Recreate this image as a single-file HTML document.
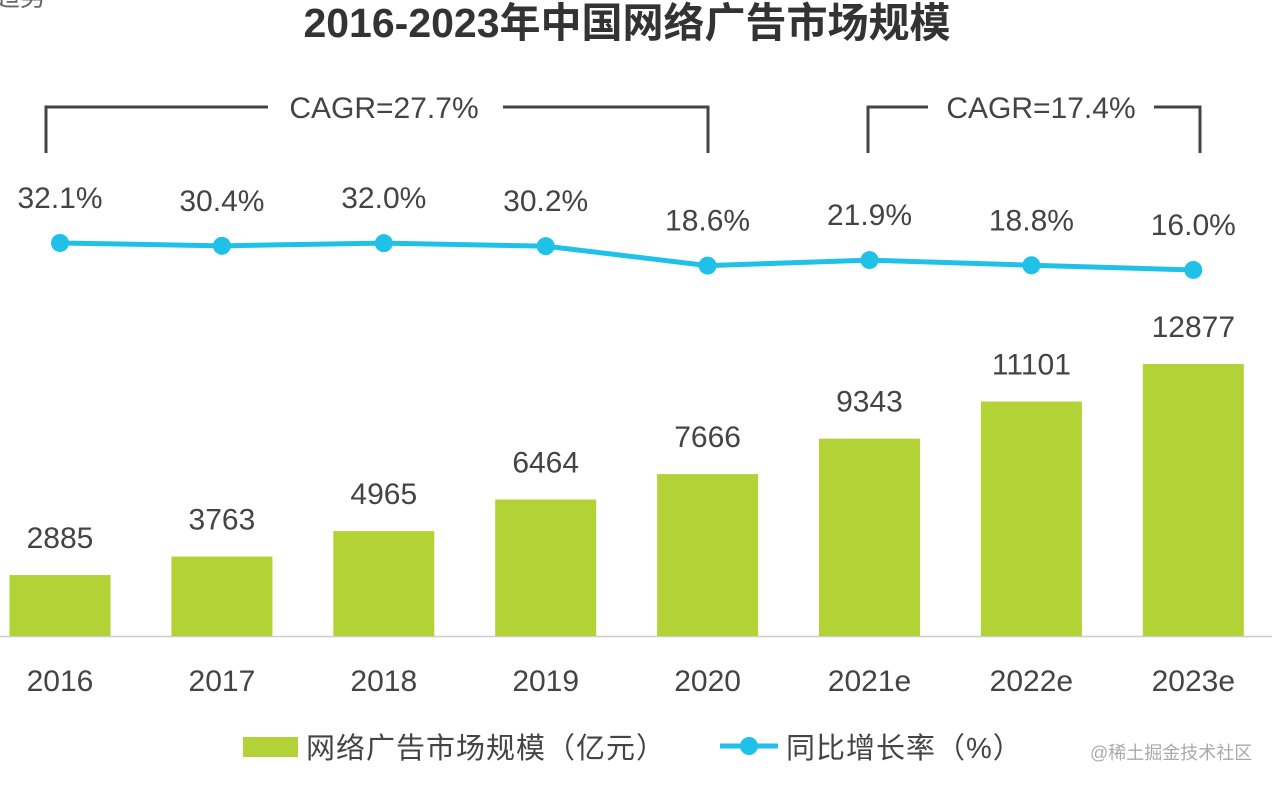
<!DOCTYPE html>
<html><head><meta charset="utf-8"><style>
body{margin:0;background:#fff;}
svg{display:block;font-family:"Liberation Sans","Noto Sans CJK SC",sans-serif;}
</style></head><body>
<svg id="c" width="1272" height="786">
<text x="-6" y="6" font-size="26" fill="#666">趋势</text>
<text x="627" y="37" text-anchor="middle" font-size="41" font-weight="bold" fill="#333">2016-2023年中国网络广告市场规模</text>
<g stroke="#444" stroke-width="3" fill="none">
<polyline points="46,153 46,107 268,107"/><polyline points="503,107 708,107 708,153"/></g>
<text x="384" y="118" text-anchor="middle" font-size="30" fill="#444">CAGR=27.7%</text>
<g stroke="#444" stroke-width="3" fill="none">
<polyline points="868,153 868,107 928,107"/><polyline points="1154,107 1200,107 1200,153"/></g>
<text x="1041" y="118" text-anchor="middle" font-size="30" fill="#444">CAGR=17.4%</text>
<line x1="0" y1="636.5" x2="1272" y2="636.5" stroke="#ccc" stroke-width="1.5"/>
<g id="bars"></g><g id="line"></g>
<g>
<rect x="243" y="737" width="55" height="20" fill="#b2d235"/>
<text x="306" y="758" font-size="29" letter-spacing="1" fill="#444">网络广告市场规模（亿元）</text>
<line x1="720" y1="746" x2="778" y2="746" stroke="#1fc1e8" stroke-width="5"/>
<circle cx="749" cy="746" r="9" fill="#1fc1e8"/>
<text x="786" y="758" font-size="29" letter-spacing="1" fill="#444">同比增长率（%）</text>
</g>
<text x="1090" y="759" font-size="18" fill="#aaa">@稀土掘金技术社区</text>
</svg>
<script>
const categories=["2016","2017","2018","2019","2020","2021e","2022e","2023e"];
const marketSize=[2885,3763,4965,6464,7666,9343,11101,12877];
const growthRate=[32.1,30.4,32.0,30.2,18.6,21.9,18.8,16.0];
const NS="http://www.w3.org/2000/svg";
const xC=i=>60+i*161.9;
const yBar=v=>636-v*0.02112;
const yLine=v=>296.8-v*1.677;
function mk(t,a,p){const e=document.createElementNS(NS,t);for(const k in a)e.setAttribute(k,a[k]);p.appendChild(e);return e;}
const bars=document.getElementById('bars'),line=document.getElementById('line');
categories.forEach((c,i)=>{
 const r=mk('rect',{x:xC(i)-50.5,y:yBar(marketSize[i]),width:101,height:636-yBar(marketSize[i]),fill:'#b2d235'},bars);
 
 
 const t=mk('text',{x:xC(i),y:yBar(marketSize[i])-27,'text-anchor':'middle','font-size':30,fill:'#444'},bars);t.textContent=marketSize[i];
 
 
 const l=mk('text',{x:xC(i),y:691,'text-anchor':'middle','font-size':30,fill:'#444'},bars);l.textContent=c;
 
 
});
const pl=mk('polyline',{points:growthRate.map((v,i)=>xC(i)+','+yLine(v)).join(' '),fill:'none',stroke:'#1fc1e8','stroke-width':5},line);


growthRate.forEach((v,i)=>{
 const d=mk('circle',{cx:xC(i),cy:yLine(v),r:9,fill:'#1fc1e8'},line);
 
 
 const t=mk('text',{x:xC(i),y:yLine(v)-35,'text-anchor':'middle','font-size':30,fill:'#444'},line);t.textContent=v.toFixed(1)+'%';
 
 
});
</script>
</body></html>
